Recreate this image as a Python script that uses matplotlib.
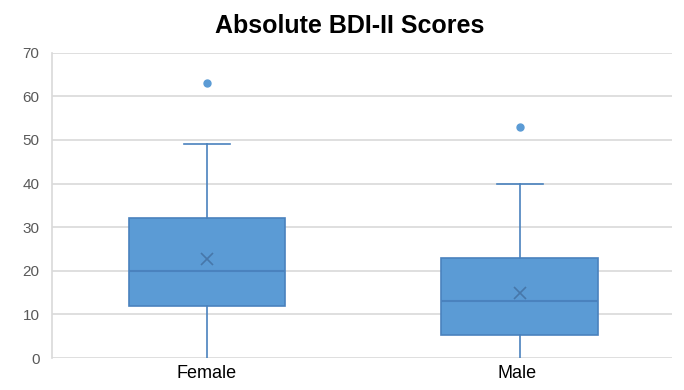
import matplotlib.pyplot as plt

plt.rcParams['font.family'] = ['Liberation Sans', 'DejaVu Sans']

# box plot summary values
groups = ['Female', 'Male']
mins = [0, 0]
q1 = [12, 5.2]
medians = [20, 13]
q3 = [32, 23]
maxs = [49, 40]
means = [22.8, 14.8]
outliers = [[63], [53]]

stats = []
for i in range(len(groups)):
    stats.append(dict(label=groups[i], whislo=mins[i], q1=q1[i], med=medians[i],
                      q3=q3[i], whishi=maxs[i], mean=means[i], fliers=outliers[i]))

box_col = '#5B9BD5'
edge_col = '#4A82BE'

fig = plt.figure(figsize=(6.84, 3.9), dpi=100)
ax = fig.add_axes([0.076, 0.082, 0.906, 0.783])

parts = ax.bxp(stats, positions=[1, 2.01], widths=0.506, patch_artist=True, showmeans=True,
               boxprops=dict(facecolor=box_col, edgecolor=edge_col, linewidth=1.2),
               medianprops=dict(color=edge_col, linewidth=1.5),
               whiskerprops=dict(color=edge_col, linewidth=1.2),
               capprops=dict(color=edge_col, linewidth=1.2),
               capwidths=0.15,
               meanprops=dict(marker='x', markeredgecolor='#4777AA', markersize=9, markeredgewidth=1.2),
               flierprops=dict(marker='o', markerfacecolor=box_col, markeredgecolor=box_col, markersize=5),
               zorder=3)
# lower caps sit on the zero line and are not visible in the original
for cap in parts['caps'][0::2]:
    cap.set_visible(False)

ax.set_xlim(0.5, 2.5)
ax.set_ylim(0, 70)
ax.set_yticks(range(0, 71, 10))
ax.grid(axis='y', color='#D9D9D9', linewidth=1.2, zorder=0)
ax.set_axisbelow(True)

for s in ['top', 'right', 'bottom']:
    ax.spines[s].set_visible(False)
ax.spines['left'].set_color('#D9D9D9')
ax.spines['left'].set_linewidth(1.2)

ax.tick_params(axis='y', length=0, labelsize=11, labelcolor='#595959', pad=9)
ax.tick_params(axis='x', length=0, labelsize=13, labelcolor='black', pad=5)
ax.set_xticks([1, 2])
ax.set_xticklabels(groups)

fig.text(0.511, 0.933, 'Absolute BDI-II Scores', ha='center', va='center',
         fontsize=18, fontweight='bold')

plt.savefig('out.png', dpi=100)
